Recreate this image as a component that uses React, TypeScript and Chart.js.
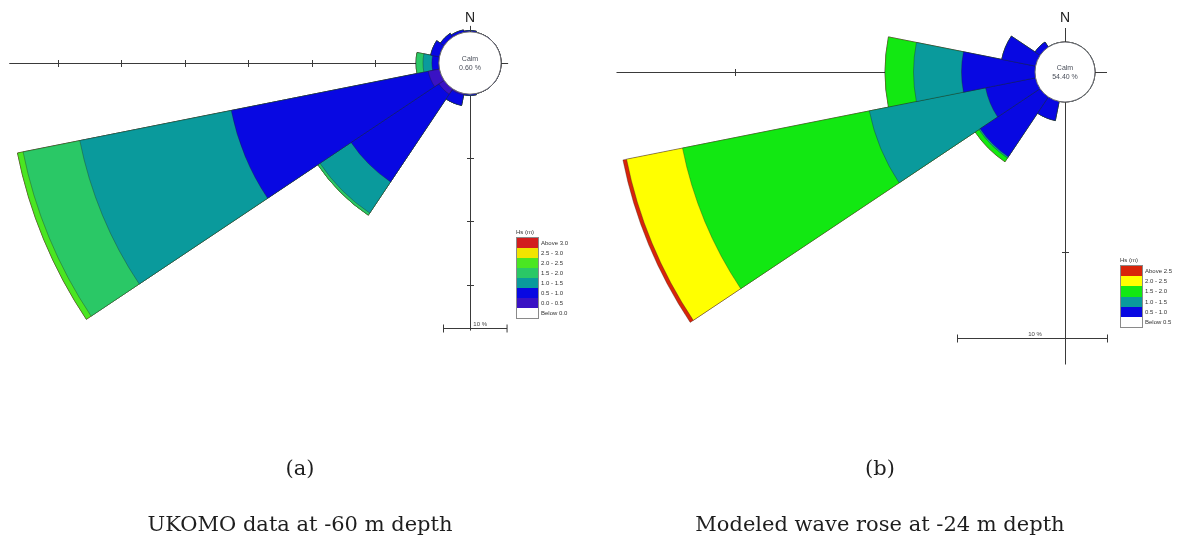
import React, { useEffect, useRef } from "react";
import { Chart, registerables } from "chart.js";

Chart.register(...registerables);

// ---------- shared ----------
const directions = ["N", "NNE", "NE", "ENE", "E", "ESE", "SE", "SSE", "S", "SSW", "SW", "WSW", "W", "WNW", "NW", "NNW"];

// ---------- Rose (a): UKOMO data at -60 m depth (percent of time) ----------
const binsA = ["0.0 - 0.5", "0.5 - 1.0", "1.0 - 1.5", "1.5 - 2.0", "2.0 - 2.5", "2.5 - 3.0", "Above 3.0"];
const colorsA = ["#3a12c4", "#0808e2", "#0a9a9c", "#2ac866", "#4ae622", "#f2e400", "#d21e1e"];
const a00to05 = [0, 0, 0, 0, 0, 0, 0, 0, 0, 0.2, 1.0, 1.8, 0, 0, 0, 0];
const a05to10 = [0.2, 0, 0, 0, 0, 0, 0, 0, 0.2, 1.7, 16.6, 31.6, 1.1, 1.4, 0.7, 0.4];
const a10to15 = [0, 0, 0, 0, 0, 0, 0, 0, 0, 0, 5.9, 24.3, 1.4, 0, 0, 0];
const a15to20 = [0, 0, 0, 0, 0, 0, 0, 0, 0, 0, 0.4, 9.1, 1.1, 0, 0, 0];
const a20to25 = [0, 0, 0, 0, 0, 0, 0, 0, 0, 0, 0, 0.9, 0, 0, 0, 0];
const a25to30 = [0, 0, 0, 0, 0, 0, 0, 0, 0, 0, 0, 0, 0, 0, 0, 0];
const aAbove30 = [0, 0, 0, 0, 0, 0, 0, 0, 0, 0, 0, 0, 0, 0, 0, 0];
const calmA = "0.60 %";
const legendLabelsA = ["Above 3.0", "2.5 - 3.0", "2.0 - 2.5", "1.5 - 2.0", "1.0 - 1.5", "0.5 - 1.0", "0.0 - 0.5", "Below 0.0"];
const legendColorsA = ["#d21e1e", "#f2e400", "#4ae622", "#2ac866", "#0a9a9c", "#0808e2", "#3a12c4", "#ffffff"];
const westTicksA = [10, 20, 30, 40, 50, 60];
const southTicksA = [10, 20, 30];

// ---------- Rose (b): Modeled wave rose at -24 m depth (percent of time) ----------
const binsB = ["0.5 - 1.0", "1.0 - 1.5", "1.5 - 2.0", "2.0 - 2.5", "Above 2.5"];
const colorsB = ["#0808e2", "#0a9a9c", "#12e812", "#ffff00", "#d8240a"];
const b05to10 = [0, 0, 0, 0, 0, 0, 0, 0, 0, 1.3, 4.8, 3.4, 4.9, 2.3, 0.4, 0];
const b10to15 = [0, 0, 0, 0, 0, 0, 0, 0, 0, 0, 0.1, 7.9, 3.2, 0, 0, 0];
const b15to20 = [0, 0, 0, 0, 0, 0, 0, 0, 0, 0, 0.3, 12.7, 1.9, 0, 0, 0];
const b20to25 = [0, 0, 0, 0, 0, 0, 0, 0, 0, 0, 0, 3.8, 0, 0, 0, 0];
const bAbove25 = [0, 0, 0, 0, 0, 0, 0, 0, 0, 0, 0, 0.25, 0, 0, 0, 0];
const calmB = "54.40 %";
const legendLabelsB = ["Above 2.5", "2.0 - 2.5", "1.5 - 2.0", "1.0 - 1.5", "0.5 - 1.0", "Below 0.5"];
const legendColorsB = ["#d8240a", "#ffff00", "#12e812", "#0a9a9c", "#0808e2", "#ffffff"];
const westTicksB = [10, 20];
const southTicksB = [10];

const scaleBarLabel = "10 %";

function cumulative(series: number[][]): number[][] {
  const out: number[][] = [];
  let acc = directions.map(() => 0);
  for (const s of series) {
    acc = acc.map((v, i) => v + s[i]);
    out.push(acc.slice());
  }
  return out;
}

type Decor = {
  westEnd: number;
  westTicks: number[];
  southEnd: number;
  southTicks: number[];
  barAt: number;
  barOffset: number; // fraction of bar length, left end relative to centre
  labelOffset: number;
  calm: string;
  nGap: number;
  nTick: number;
  eTick: number;
};

function makeDecor(cfg: Decor) {
  return {
    id: "roseDecor",
    beforeDatasetsDraw(chart: any) {
      const s = chart.scales.r;
      const ctx = chart.ctx as CanvasRenderingContext2D;
      const cx = s.xCenter;
      const cy = s.yCenter;
      const d = (v: number) => s.getDistanceFromCenterForValue(v);
      ctx.save();
      ctx.strokeStyle = "#3a3a3a";
      ctx.lineWidth = 1;
      // west axis
      ctx.beginPath();
      ctx.moveTo(cx, cy + 0.5);
      ctx.lineTo(cx - d(cfg.westEnd), cy + 0.5);
      for (const t of cfg.westTicks) {
        const x = Math.round(cx - d(t)) + 0.5;
        ctx.moveTo(x, cy - 3);
        ctx.lineTo(x, cy + 4);
      }
      // south axis
      ctx.moveTo(cx + 0.5, cy);
      ctx.lineTo(cx + 0.5, cy + d(cfg.southEnd));
      for (const t of cfg.southTicks) {
        const y = Math.round(cy + d(t)) + 0.5;
        ctx.moveTo(cx - 3, y);
        ctx.lineTo(cx + 4, y);
      }
      // scale bar
      const len = d(10) - d(0);
      const by = Math.round(cy + d(cfg.barAt)) + 0.5;
      const bx0 = Math.round(cx + cfg.barOffset * len) + 0.5;
      const bx1 = bx0 + len;
      ctx.moveTo(bx0, by);
      ctx.lineTo(bx1, by);
      ctx.moveTo(bx0, by - 4);
      ctx.lineTo(bx0, by + 4);
      ctx.moveTo(bx1, by - 4);
      ctx.lineTo(bx1, by + 4);
      ctx.stroke();
      ctx.fillStyle = "#444";
      ctx.font = "6px Arial, 'Liberation Sans', sans-serif";
      ctx.textAlign = "center";
      ctx.textBaseline = "bottom";
      ctx.fillText(scaleBarLabel, cx + cfg.labelOffset * len, by - 1);
      ctx.restore();
    },
    afterDatasetsDraw(chart: any) {
      const s = chart.scales.r;
      const ctx = chart.ctx as CanvasRenderingContext2D;
      const cx = s.xCenter;
      const cy = s.yCenter;
      const r0 = s.getDistanceFromCenterForValue(0);
      ctx.save();
      ctx.beginPath();
      ctx.arc(cx, cy, r0, 0, Math.PI * 2);
      ctx.fillStyle = "#ffffff";
      ctx.fill();
      ctx.strokeStyle = "#6a6a6a";
      ctx.lineWidth = 1;
      ctx.stroke();
      // N and E ticks
      ctx.strokeStyle = "#3a3a3a";
      ctx.beginPath();
      ctx.moveTo(cx + 0.5, cy - r0);
      ctx.lineTo(cx + 0.5, cy - r0 - cfg.nTick);
      ctx.moveTo(cx + r0, cy + 0.5);
      ctx.lineTo(cx + r0 + cfg.eTick, cy + 0.5);
      ctx.stroke();
      ctx.fillStyle = "#222";
      ctx.font = "14px Arial, 'Liberation Sans', sans-serif";
      ctx.textAlign = "center";
      ctx.textBaseline = "middle";
      ctx.fillText("N", cx, cy - r0 - cfg.nGap);
      ctx.fillStyle = "#4a4f5a";
      ctx.font = "7px Arial, 'Liberation Sans', sans-serif";
      ctx.fillText("Calm", cx, cy - 4);
      ctx.fillText(cfg.calm, cx, cy + 5);
      ctx.restore();
    },
  };
}

function buildChart(
  canvas: HTMLCanvasElement,
  series: number[][],
  bins: string[],
  colors: string[],
  min: number,
  max: number,
  decor: Decor
) {
  const cum = cumulative(series);
  return new Chart(canvas, {
    type: "polarArea",
    data: {
      labels: directions,
      datasets: cum.map((data, i) => ({
        label: bins[i],
        data,
        backgroundColor: colors[i],
        borderColor: "rgba(30,30,30,0.55)",
        borderWidth: 0.6,
      })),
    },
    options: {
      responsive: false,
      animation: false,
      events: [],
      layout: { padding: 0 },
      plugins: { legend: { display: false }, tooltip: { enabled: false } },
      scales: {
        r: {
          min,
          max,
          startAngle: -11.25,
          grid: { display: false },
          angleLines: { display: false },
          ticks: { display: false },
          pointLabels: { display: false },
        },
      },
    },
    plugins: [makeDecor(decor)],
  } as any);
}

function Legend(props: { left: number; top: number; rowH: number; title: string; labels: string[]; colors: string[] }) {
  const { left, top, rowH, title, labels, colors } = props;
  return (
    <div style={{ position: "absolute", left, top, fontFamily: "Arial, 'Liberation Sans', sans-serif", fontSize: 6, color: "#333" }}>
      <div style={{ position: "absolute", left: 0, top: -8, whiteSpace: "nowrap", lineHeight: "7px" }}>{title}</div>
      <div style={{ position: "absolute", left: 0, top: 0, width: 21, border: "1px solid #8a8a8a" }}>
        {colors.map((c, i) => (
          <div key={i} style={{ height: rowH, background: c }} />
        ))}
      </div>
      {labels.map((l, i) => (
        <div key={i} style={{ position: "absolute", left: 25, top: i * rowH + 1, lineHeight: rowH + "px", whiteSpace: "nowrap" }}>
          {l}
        </div>
      ))}
    </div>
  );
}

const captionStyle: React.CSSProperties = {
  position: "absolute",
  width: 500,
  textAlign: "center",
  fontFamily: "'DejaVu Serif', serif",
  fontSize: 21,
  lineHeight: "21px",
  color: "#1e1e1e",
  whiteSpace: "nowrap",
};

export default function App() {
  const refA = useRef<HTMLCanvasElement>(null);
  const refB = useRef<HTMLCanvasElement>(null);

  useEffect(() => {
    const ca = buildChart(
      refA.current!,
      [a00to05, a05to10, a10to15, a15to20, a20to25, a25to30, aAbove30],
      binsA,
      colorsA,
      -4.9,
      70,
      {
        westEnd: 67.6,
        westTicks: westTicksA,
        southEnd: 37.2,
        southTicks: southTicksA,
        barAt: 36.8,
        barOffset: -0.42,
        labelOffset: 0.16,
        calm: calmA,
        nGap: 14,
        nTick: 6,
        eTick: 7,
      }
    );
    const cb = buildChart(
      refB.current!,
      [b05to10, b10to15, b15to20, b20to25, bAbove25],
      binsB,
      colorsB,
      -2,
      29,
      {
        westEnd: 27.9,
        westTicks: westTicksB,
        southEnd: 17.5,
        southTicks: southTicksB,
        barAt: 15.7,
        barOffset: -0.72,
        labelOffset: -0.2,
        calm: calmB,
        nGap: 24,
        nTick: 14,
        eTick: 12,
      }
    );
    return () => {
      ca.destroy();
      cb.destroy();
    };
  }, []);

  return (
    <div style={{ position: "absolute", left: 0, top: 0, width: 1185, height: 550, overflow: "hidden", background: "#fff" }}>
      <canvas ref={refA} width={952} height={952} style={{ position: "absolute", left: -6, top: -413 }} />
      <canvas ref={refB} width={930} height={930} style={{ position: "absolute", left: 600, top: -393 }} />
      <Legend left={516} top={237} rowH={10} title="Hs (m)" labels={legendLabelsA} colors={legendColorsA} />
      <Legend left={1120} top={265} rowH={10.2} title="Hs (m)" labels={legendLabelsB} colors={legendColorsB} />
      <div style={{ ...captionStyle, left: 50, top: 458 }}>(a)</div>
      <div style={{ ...captionStyle, left: 50, top: 514 }}>UKOMO data at -60 m depth</div>
      <div style={{ ...captionStyle, left: 630, top: 458 }}>(b)</div>
      <div style={{ ...captionStyle, left: 630, top: 514 }}>Modeled wave rose at -24 m depth</div>
    </div>
  );
}
